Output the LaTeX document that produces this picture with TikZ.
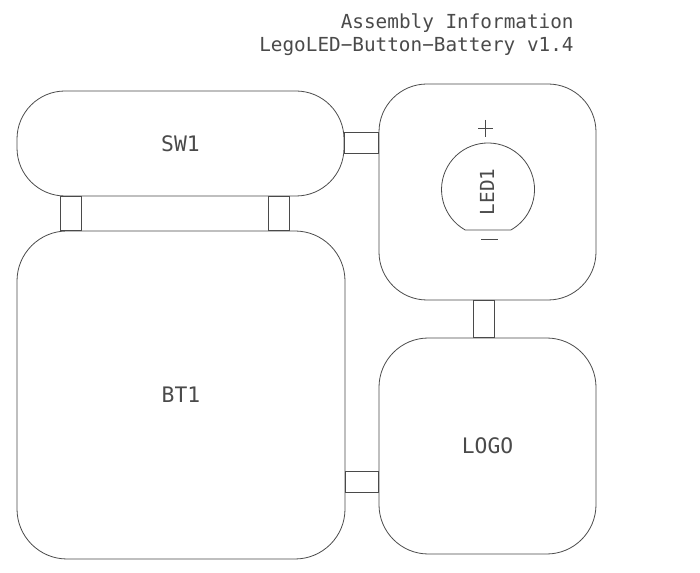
\documentclass[tikz,border=0pt]{standalone}
\usepackage{fontspec}
\setmainfont{DejaVu Sans Mono}
\definecolor{silk}{RGB}{74,74,74}
\begin{document}
\begin{tikzpicture}[x=0.75pt,y=-0.75pt,line width=0.6pt,color=silk,
  part/.style={draw,inner sep=0pt,font=\fontsize{16}{16}\selectfont},
  title/.style={anchor=east,inner sep=0pt,font=\fontsize{14.5}{14.5}\selectfont}]
  \useasboundingbox (0,0) rectangle (700,573);
  \node[part,rounded corners=36pt,minimum width=245.25pt,minimum height=78.75pt] (sw1) at (180.5,143.5) {SW1};
  \node[part,rounded corners=37.5pt,minimum width=246pt,minimum height=246pt] (bt1) at (181,395) {BT1};
  \node[part,rounded corners=36pt,minimum width=162.75pt,minimum height=162pt] (led) at (487.5,192) {};
  \node[part,rounded corners=37pt,minimum width=162.75pt,minimum height=162pt] (logo) at (487.5,446) {LOGO};

  \node[title] (info) at (574,23) {Assembly Information};
  \node[title] (board) at (574,47) {LegoLED−Button−Battery v1.4};

  \draw (465.2,230) arc[start angle=119.4,end angle=420.6,radius=46.5] -- cycle;
  \node[inner sep=0pt,rotate=90,font=\fontsize{14.5}{14.5}\selectfont] (led1) at (487,192) {LED1};
  \draw (478,128) -- (493,128) (485.5,120) -- (485.5,137);
  \draw (481,239) -- (498,239);

  \draw (sw1.east |- 0,132) rectangle (led.west |- 0,153);
  \draw (sw1.south -| 60,0) rectangle (bt1.north -| 81,0);
  \draw (sw1.south -| 268,0) rectangle (bt1.north -| 289,0);
  \draw (led.south -| 473,0) rectangle (logo.north -| 494,0);
  \draw (bt1.east |- 0,471) rectangle (logo.west |- 0,492);
\end{tikzpicture}
\end{document}
